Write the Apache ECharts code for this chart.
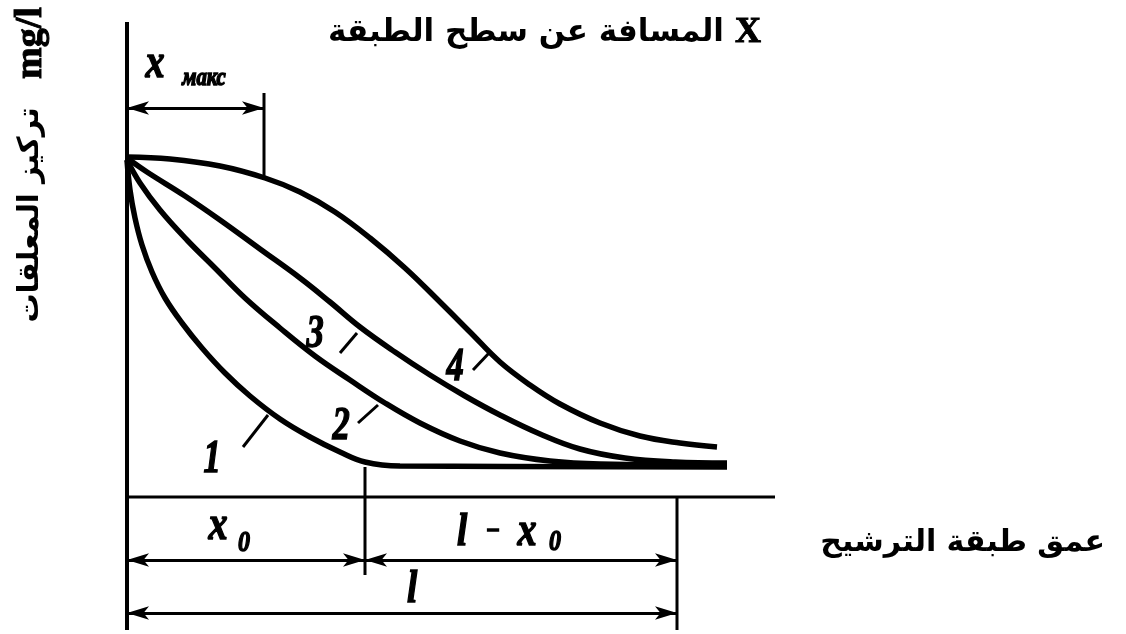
<!DOCTYPE html>
<html><head><meta charset="utf-8">
<script src="https://cdn.jsdelivr.net/npm/echarts@6/dist/echarts.min.js"></script>
<style>html,body{margin:0;padding:0;background:#fff}#c{width:1126px;height:634px}</style>
</head><body><div id="c"></div><script>
// depth from layer surface (x) and suspended-solids concentration (y)
const curve1X=[0,3,8,15,25,38,55,75,98,123,153,183,213,238,273,600];
const curve1Y=[337,307,279,252,225,199,174,149,124,101,78,60,45,35,31,30];
const curve2X=[0,13,33,60,88,118,153,188,223,258,293,333,373,423,473,600];
const curve2Y=[337,314,287,257,229,199,169,141,117,94,74,56,44,36,33,32];
const curve3X=[0,20,58,93,133,173,203,233,268,303,338,373,413,453,498,548,600];
const curve3Y=[339,325,301,277,248,219,195,170,145,122,101,82,63,48,39,35,34];
const curve4X=[0,43,93,138,173,208,243,278,313,343,373,403,433,473,513,553,590];
const curve4Y=[340,338,331,319,305,285,259,229,195,165,135,112,93,74,61,54,50];
const curveNames=['1','2','3','4'];
const curveLabelX=[85,214,188,328];
const curveLabelY=[37,70,162,129];
const tickFromX=[116,231,213,346], tickFromY=[50,74,144,127];
const tickToX=[141,251,230,363], tickToY=[82,92,164,145];
// frame: axes and extension lines
const frameX=[[0,0],[0,648],[137,137],[238,238],[550,550]];
const frameY=[[-133,475],[0,0],[404,318],[30,-78],[0,-133]];
// dimension lines
const dimX=[[0,137],[0,238],[238,550],[0,550]];
const dimY=[389,-63,-63,-116];
// dimension texts
const dimTexts=['x','макс','x','0','l','−','x','0','l'];
const dimTextX=[28,77,91,117,335,366,400,428,285];
const dimTextY=[432,419,-30,-46,-36,-35,-36,-45,-93];
const dimTextSize=[48,26,48,30,46,30,48,30,46];
const titleTop='المسافة عن سطح الطبقة';
const titleTopVar='X';
const titleRight='عمق طبقة الترشيح';
const titleLeft='تركيز المعلقات';
const unitLeft='mg/l';

const zip=(xs,ys)=>xs.map((x,i)=>[x,ys[i]]);
const chart=echarts.init(document.getElementById('c'));
const series=[];
[[curve1X,curve1Y],[curve2X,curve2Y],[curve3X,curve3Y],[curve4X,curve4Y]].forEach((c,i)=>{
  series.push({type:'line',name:curveNames[i],data:zip(c[0],c[1]),smooth:0.4,symbol:'none',
    lineStyle:{color:'#000',width:5.5},z:5});
});
frameX.forEach((fx,i)=>{
  series.push({type:'line',data:zip(fx,frameY[i]),symbol:'none',
    lineStyle:{color:'#000',width:i===0?4:3},z:4});
});
curveNames.forEach((n,i)=>{
  series.push({type:'line',data:[[tickFromX[i],tickFromY[i]],[tickToX[i],tickToY[i]]],symbol:'none',
    lineStyle:{color:'#000',width:3},z:4});
});
series.push({type:'line',data:[],symbol:'none',
  markLine:{silent:true,symbol:['arrow','arrow'],symbolSize:[10,22],label:{show:false},
    lineStyle:{color:'#000',width:3,type:'solid'},
    data:dimX.map((dx,i)=>[{coord:[dx[0],dimY[i]]},{coord:[dx[1],dimY[i]]}])}});

chart.setOption({
  animation:false,
  grid:{left:127,top:20,width:660,height:614},
  xAxis:{type:'value',min:0,max:660,show:false},
  yAxis:{type:'value',min:-137,max:477,show:false},
  series:series
});

const labelFont='Liberation Serif';
const graphics=[];
curveNames.forEach((n,i)=>{
  const p=chart.convertToPixel({gridIndex:0},[curveLabelX[i],curveLabelY[i]]);
  graphics.push({type:'text',x:p[0],y:p[1],scaleX:0.75,z:10,
    style:{text:n,fontFamily:labelFont,fontStyle:'italic',fontWeight:'bold',fontSize:46,fill:'#000',
      stroke:'#000',lineWidth:1.5,align:'center',verticalAlign:'middle'}});
});
dimTexts.forEach((t,i)=>{
  const p=chart.convertToPixel({gridIndex:0},[dimTextX[i],dimTextY[i]]);
  graphics.push({type:'text',x:p[0],y:p[1],scaleX:0.8,z:10,
    style:{text:t,fontFamily:labelFont,fontStyle:'italic',fontWeight:'bold',fontSize:dimTextSize[i],fill:'#000',
      stroke:'#000',lineWidth:1.5,align:'center',verticalAlign:'middle'}});
});
const arabic={fontFamily:'DejaVu Sans',fontWeight:'bold',fill:'#000',verticalAlign:'middle'};
const serifB={fontFamily:'Liberation Serif',fontWeight:'bold',fill:'#000',stroke:'#000',lineWidth:1,verticalAlign:'middle'};
graphics.push({type:'text',x:724,y:33,z:10,style:Object.assign({text:titleTop,fontSize:31,align:'right'},arabic)});
graphics.push({type:'text',x:748,y:33,z:10,style:Object.assign({text:titleTopVar,fontSize:36,align:'center'},serifB)});
graphics.push({type:'text',x:1105,y:543,z:10,style:Object.assign({text:titleRight,fontSize:30,align:'right'},arabic)});
graphics.push({type:'text',x:30,y:215,rotation:Math.PI/2,z:10,style:Object.assign({text:titleLeft,fontSize:29,align:'center'},arabic)});
graphics.push({type:'text',x:31,y:43,rotation:Math.PI/2,z:10,style:Object.assign({text:unitLeft,fontSize:38,align:'center'},serifB)});
chart.setOption({graphic:graphics});
</script></body></html>
